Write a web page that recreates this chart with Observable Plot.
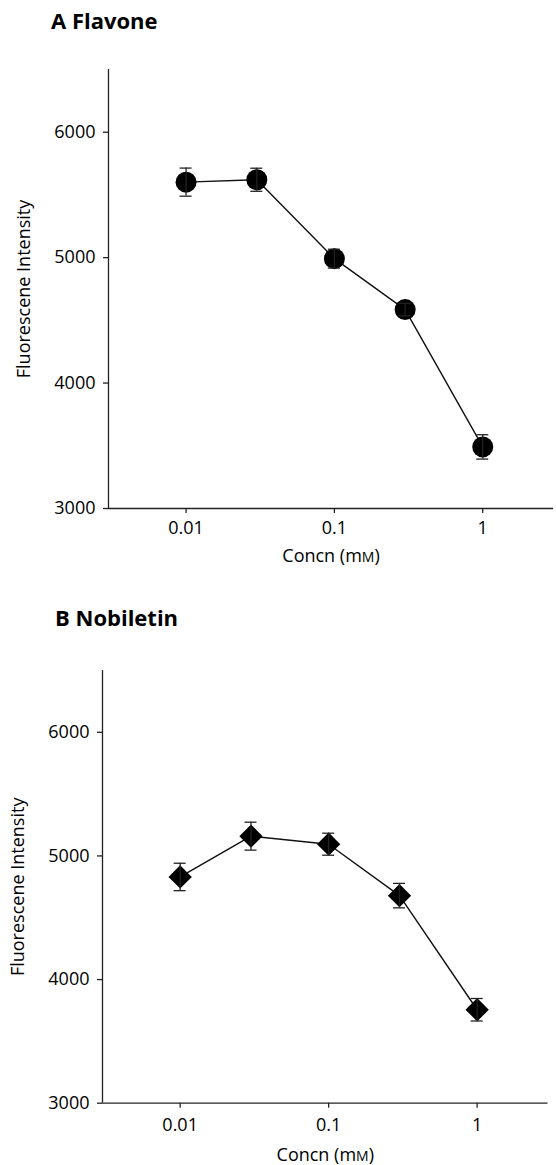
<!DOCTYPE html>
<html><head><meta charset="utf-8">
<script src="https://cdn.jsdelivr.net/npm/d3@7"></script>
<script src="https://cdn.jsdelivr.net/npm/@observablehq/plot@0.6"></script>
<style>
body{margin:0;background:#fff;font-family:"Open Sans",sans-serif;}
#wrap{position:relative;width:556px;height:1165px;overflow:hidden;background:#fff}
.title{position:absolute;font-weight:700;font-size:22px;line-height:22px;color:#000;white-space:nowrap}
.chart{position:absolute;left:0}
</style></head><body>
<div id="wrap">
<div class="title" style="left:51px;top:9px">A Flavone</div>
<div class="chart" id="cA" style="top:40px"></div>
<div class="title" style="left:55px;top:606px">B Nobiletin</div>
<div class="chart" id="cB" style="top:640px"></div>
</div>
<script>
const concn = [0.01, 0.03, 0.1, 0.3, 1];
const flavone = [5602, 5621, 4992, 4586, 3491];
const flavoneErr = [112, 92, 75, 50, 97];
const nobiletin = [4830, 5160, 5095, 4679, 3756];
const nobiletinErr = [111, 113, 89, 99, 91];
const xTicks = [0.01, 0.1, 1];
const yTicks = [3000, 4000, 5000, 6000];
const xLabel = "Concn (mM)";
const yLabel = "Fluorescene Intensity";

function panel(values, errs, symbol, d) {
  const data = concn.map((c, i) => ({c, v: values[i], e: errs[i]}));
  const ink = "#222";
  const svg = Plot.plot({
    width: 556, height: d.height,
    marginLeft: d.ml, marginRight: d.mr, marginTop: d.mt, marginBottom: d.mb,
    style: {fontFamily: '"Open Sans", sans-serif', fontSize: "18px", color: "#000", background: "#fff", overflow: "visible"},
    x: {type: "log", domain: [0.003, 3]},
    y: {domain: [3000, 6500]},
    marks: [
      Plot.ruleY([3000], {stroke: ink, strokeWidth: 1.3}),
      Plot.ruleX([0.003], {stroke: ink, strokeWidth: 1.3}),
      Plot.axisX(xTicks, {tickSize: 5, tickPadding: d.xpad, tickFormat: t => String(t), stroke: ink, strokeWidth: 1.3,
        label: xLabel, labelAnchor: "center", labelOffset: d.xlab, labelArrow: "none"}),
      Plot.axisY(yTicks, {tickSize: 5, tickPadding: 8, tickFormat: d3.format("d"), stroke: ink, strokeWidth: 1.3,
        label: yLabel, labelAnchor: "center", labelOffset: d.ylab, labelArrow: "none"}),
      Plot.line(data, {x: "c", y: "v", stroke: "#111", strokeWidth: 1.4}),
      Plot.dot(data, {x: "c", y: "v", r: 10.5, symbol, fill: "#000", stroke: "none"}),
      Plot.ruleX(data, {x: "c", y1: p => p.v - p.e, y2: p => p.v + p.e, stroke: ink, strokeWidth: 1.3}),
      Plot.ruleY(data, {y: p => p.v + p.e, x1: "c", x2: "c", insetLeft: -6, insetRight: -6, stroke: ink, strokeWidth: 1.3}),
      Plot.ruleY(data, {y: p => p.v - p.e, x1: "c", x2: "c", insetLeft: -6, insetRight: -6, stroke: ink, strokeWidth: 1.3})
    ]
  });
  // small-cap "M" in the unit
  d3.select(svg).selectAll("text").each(function() {
    if (this.textContent === xLabel) {
      const t = d3.select(this);
      t.text("Concn (m");
      t.append("tspan").attr("font-size", "14px").text("M");
      t.append("tspan").text(")");
    }
  });
  return svg;
}

document.getElementById("cA").append(panel(flavone, flavoneErr, "circle",
  {height: 540, ml: 108, mr: 3, mt: 29, mb: 72, xpad: 8, xlab: 53, ylab: 91}));
document.getElementById("cB").append(panel(nobiletin, nobiletinErr, "diamond2",
  {height: 525, ml: 102, mr: 8.5, mt: 30, mb: 62.3, xpad: 10, xlab: 58, ylab: 91}));
</script>
</body></html>
